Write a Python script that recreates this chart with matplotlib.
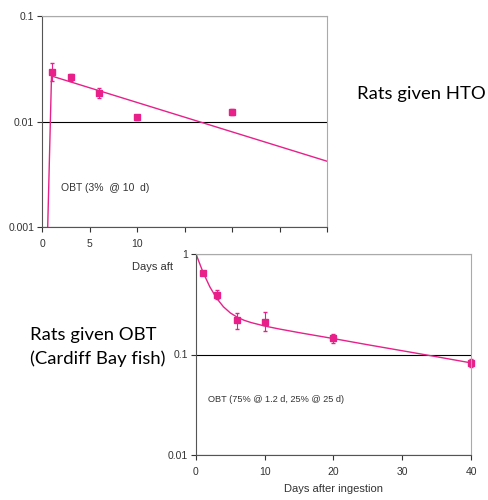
import numpy as np
import matplotlib
matplotlib.use("Agg")
import matplotlib.pyplot as plt
from matplotlib.patches import Rectangle
from matplotlib import font_manager

# Data
# Top panel: rats given HTO (OBT component)
hto_days = [1, 3, 6, 10, 20]
hto_vals = [0.0295, 0.0264, 0.0186, 0.011, 0.0123]
hto_lo = [0.0055, 0.002, 0.002, 0.0006, 0.0008]
hto_hi = [0.0065, 0.002, 0.002, 0.0006, 0.0008]
hto_fit_x = [0.6, 1, 30]
hto_fit_y = [0.001, 0.027, 0.0042]

# Bottom panel: rats given OBT (Cardiff Bay fish)
obt_days = [1, 3, 6, 10, 20, 40]
obt_vals = [0.65, 0.39, 0.219, 0.212, 0.145, 0.0817]
obt_lo = [0.03, 0.03, 0.04, 0.04, 0.015, 0.006]
obt_hi = [0.03, 0.05, 0.04, 0.05, 0.015, 0.008]
obt_fit_x = [0, 1, 2, 3, 4, 5, 6, 7, 8, 10, 12, 15, 20, 25, 30, 35, 40]
obt_fit_y = [1.0, 0.664, 0.473, 0.363, 0.298, 0.259, 0.235, 0.219, 0.208, 0.192,
             0.180, 0.165, 0.144, 0.125, 0.109, 0.095, 0.0825]

pink = '#e8208a'
grey_txt = '#333333'

# narrow font if it is there, else a regular one
try:
    font_manager.findfont('Liberation Sans Narrow', fallback_to_default=False)
    narrow = True
except ValueError:
    narrow = False

if narrow:
    tick_font = ['Liberation Sans Narrow', 'DejaVu Sans']
    title_font = ['Liberation Sans Narrow', 'DejaVu Sans']
    tick_size, title_size = 8.5, 15.5
else:
    tick_font = ['Liberation Sans', 'DejaVu Sans']
    title_font = ['Lato', 'DejaVu Sans']
    tick_size, title_size = 7.5, 13.3

fig = plt.figure(figsize=(4.89, 5), dpi=100)


def style_axes(ax, xticks, yticks, ylabels):
    ax.set_yscale('log')
    ax.set_xticks(xticks)
    ax.set_yticks(yticks)
    ax.set_yticklabels(ylabels)
    ax.minorticks_off()
    ax.tick_params(axis='both', direction='out', length=3.5, width=0.8,
                   labelsize=tick_size, colors=grey_txt, pad=2)
    ax.tick_params(axis='x', pad=5)
    for lab in ax.get_xticklabels() + ax.get_yticklabels():
        lab.set_family(tick_font)
    ax.spines['top'].set_color('#aaaaaa')
    ax.spines['right'].set_color('#aaaaaa')
    ax.spines['left'].set_color('#555555')
    ax.spines['bottom'].set_color('#555555')
    ax.yaxis.grid(True, color='black', linewidth=0.8)
    ax.set_axisbelow(True)


# top chart
ax1 = fig.add_axes([0.0859, 0.546, 0.583, 0.422])
ax1.plot(hto_fit_x, hto_fit_y, color=pink, linewidth=1)
ax1.errorbar(hto_days, hto_vals, yerr=[hto_lo, hto_hi], fmt='s', color=pink,
             markersize=4.5, elinewidth=0.8, capsize=1.5)
ax1.set_xlim(0, 30)
ax1.set_ylim(0.001, 0.1)
style_axes(ax1, [0, 5, 10, 15, 20, 25, 30], [0.001, 0.01, 0.1], ['0.001', '0.01', '0.1'])
ax1.text(2, 0.0022, 'OBT (3%  @ 10  d)', family=tick_font, fontsize=tick_size, color=grey_txt)
# the x label of the top chart is mostly hidden behind the lower chart
fig.text(132 / 489, 1 - 267 / 500, 'Days aft', family=tick_font, fontsize=tick_size + 0.5,
         color=grey_txt, ha='left', va='center')

# white cover from the bottom picture
fig.patches.append(Rectangle((174 / 489, 0), 1, (500 - 236) / 500, transform=fig.transFigure,
                             facecolor='white', edgecolor='none', zorder=1.5))

# bottom chart
ax2 = fig.add_axes([0.4008, 0.09, 0.5624, 0.402])
ax2.set_zorder(2)
ax2.plot(obt_fit_x, obt_fit_y, color=pink, linewidth=1)
ax2.errorbar(obt_days, obt_vals, yerr=[obt_lo, obt_hi], fmt='s', color=pink,
             markersize=4.5, elinewidth=0.8, capsize=1.5, clip_on=False)
ax2.set_xlim(0, 40)
ax2.set_ylim(0.01, 1)
style_axes(ax2, [0, 10, 20, 30, 40], [0.01, 0.1, 1], ['0.01', '0.1', '1'])
ax2.set_xlabel('Days after ingestion', family=tick_font, fontsize=tick_size + 0.5,
               color=grey_txt, labelpad=5)
ax2.text(1.8, 0.034, 'OBT (75% @ 1.2 d, 25% @ 25 d)', family=tick_font,
         fontsize=tick_size - 0.9, color=grey_txt)

fig.text(357 / 489, 1 - 94 / 500, 'Rats given HTO', family=title_font, fontsize=title_size,
         va='center', ha='left', zorder=3)
fig.text(30 / 489, 1 - 347 / 500, 'Rats given OBT\n(Cardiff Bay fish)', family=title_font,
         fontsize=title_size, va='center', ha='left', linespacing=1.55, zorder=3)

fig.savefig('out.png', dpi=100)
